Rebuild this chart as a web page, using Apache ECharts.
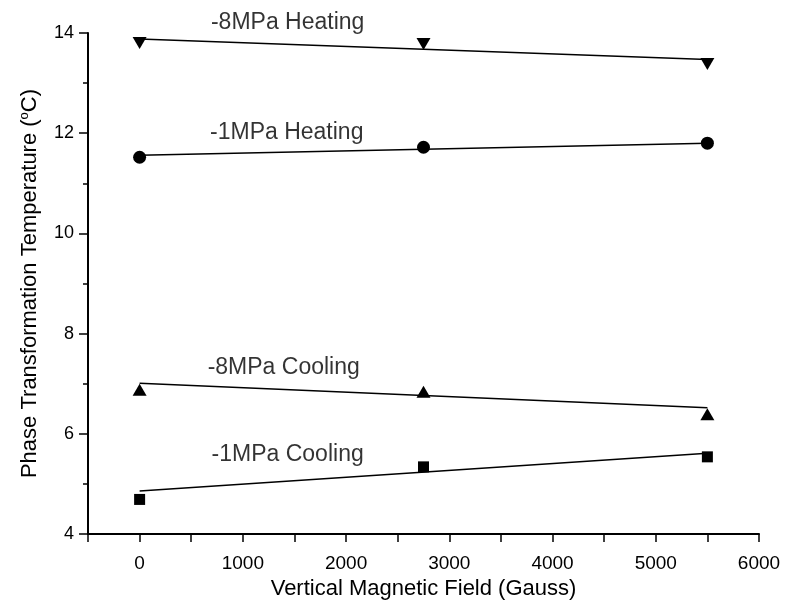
<!DOCTYPE html>
<html>
<head>
<meta charset="utf-8">
<script src="https://cdn.jsdelivr.net/npm/echarts@6/dist/echarts.min.js"></script>
<style>
  html, body { margin: 0; padding: 0; background: #fff; }
  #chart { width: 787px; height: 612px; }
</style>
</head>
<body>
<div id="chart"></div>
<script>
// field values (Gauss)
const fieldX = [0, 2750, 5500];

// measured temperatures (°C)
const heat8 = [13.80, 13.78, 13.38];
const heat1 = [11.52, 11.72, 11.80];
const cool8 = [6.88, 6.84, 6.39];
const cool1 = [4.69, 5.34, 5.54];

// fitted lines, end points
const fitX = [0, 5500];
const heat8Fit = [13.88, 13.47];
const heat1Fit = [11.56, 11.80];
const cool8Fit = [7.01, 6.52];
const cool1Fit = [4.86, 5.61];

// curve labels
const curveNames = ['-8MPa Heating', '-1MPa Heating', '-8MPa Cooling', '-1MPa Cooling'];
const labelAt = [[1434, 14.21], [1425, 12.01], [1396, 7.32], [1434, 5.58]];

const font = 'Liberation Sans, Arial, sans-serif';

const pts = (ys) => fieldX.map((x, i) => [x, ys[i]]);
const fit = (ys) => fitX.map((x, i) => [x, ys[i]]);

const markerSeries = (name, ys, symbol, size, rotate) => ({
  name: name,
  type: 'scatter',
  data: pts(ys),
  symbol: symbol,
  symbolSize: size,
  symbolRotate: rotate || 0,
  itemStyle: { color: '#000', opacity: 1 },
  z: 3
});

const fitSeries = (ys) => ({
  type: 'line',
  data: fit(ys),
  showSymbol: false,
  lineStyle: { color: '#000', width: 1.5 },
  silent: true,
  z: 2
});

const chart = echarts.init(document.getElementById('chart'));

chart.setOption({
  animation: false,
  backgroundColor: '#fff',
  grid: { left: 88, right: 28, top: 33, bottom: 78, outerBoundsMode: 'none' },
  xAxis: {
    type: 'value',
    min: -500,
    max: 6000,
    interval: 500,
    name: 'Vertical Magnetic Field (Gauss)',
    nameLocation: 'middle',
    nameGap: 44,
    nameTextStyle: { fontFamily: font, fontSize: 22, color: '#000' },
    axisLine: { onZero: false, lineStyle: { color: '#000', width: 2 } },
    axisTick: { length: 8, lineStyle: { color: '#000', width: 1.5 } },
    axisLabel: {
      margin: 20,
      fontFamily: font,
      fontSize: 19,
      color: '#000',
      formatter: (v) => (v % 1000 === 0 ? String(v) : '')
    },
    splitLine: { show: false }
  },
  yAxis: {
    type: 'value',
    min: 4,
    max: 14,
    interval: 2,
    name: 'Phase Transformation Temperature ({sup|o}C)',
    nameLocation: 'middle',
    nameGap: 47,
    nameRotate: 90,
    nameTextStyle: {
      fontFamily: font,
      fontSize: 22,
      color: '#000',
      rich: {
        sup: { fontFamily: font, fontSize: 13, color: '#000', padding: [0, 0, 10, 0] }
      }
    },
    axisLine: { show: true, onZero: false, lineStyle: { color: '#000', width: 2 } },
    axisTick: { show: true, length: 9, lineStyle: { color: '#000', width: 1.5 } },
    minorTick: { show: true, splitNumber: 2, length: 5, lineStyle: { color: '#000', width: 1.5 } },
    axisLabel: { margin: 14, fontFamily: font, fontSize: 18, color: '#000' },
    splitLine: { show: false }
  },
  series: [
    fitSeries(heat8Fit),
    fitSeries(heat1Fit),
    fitSeries(cool8Fit),
    fitSeries(cool1Fit),
    markerSeries(curveNames[0], heat8, 'triangle', [14, 12], 180),
    markerSeries(curveNames[1], heat1, 'circle', 13),
    markerSeries(curveNames[2], cool8, 'triangle', [14, 12]),
    markerSeries(curveNames[3], cool1, 'rect', 11),
    {
      type: 'scatter',
      symbolSize: 0,
      silent: true,
      clip: false,
      data: labelAt.map((p, i) => ({ value: p, name: curveNames[i] })),
      label: {
        show: true,
        position: 'inside',
        formatter: (p) => p.name,
        fontFamily: font,
        fontSize: 23,
        color: '#000'
      }
    }
  ]
});
</script>
</body>
</html>
